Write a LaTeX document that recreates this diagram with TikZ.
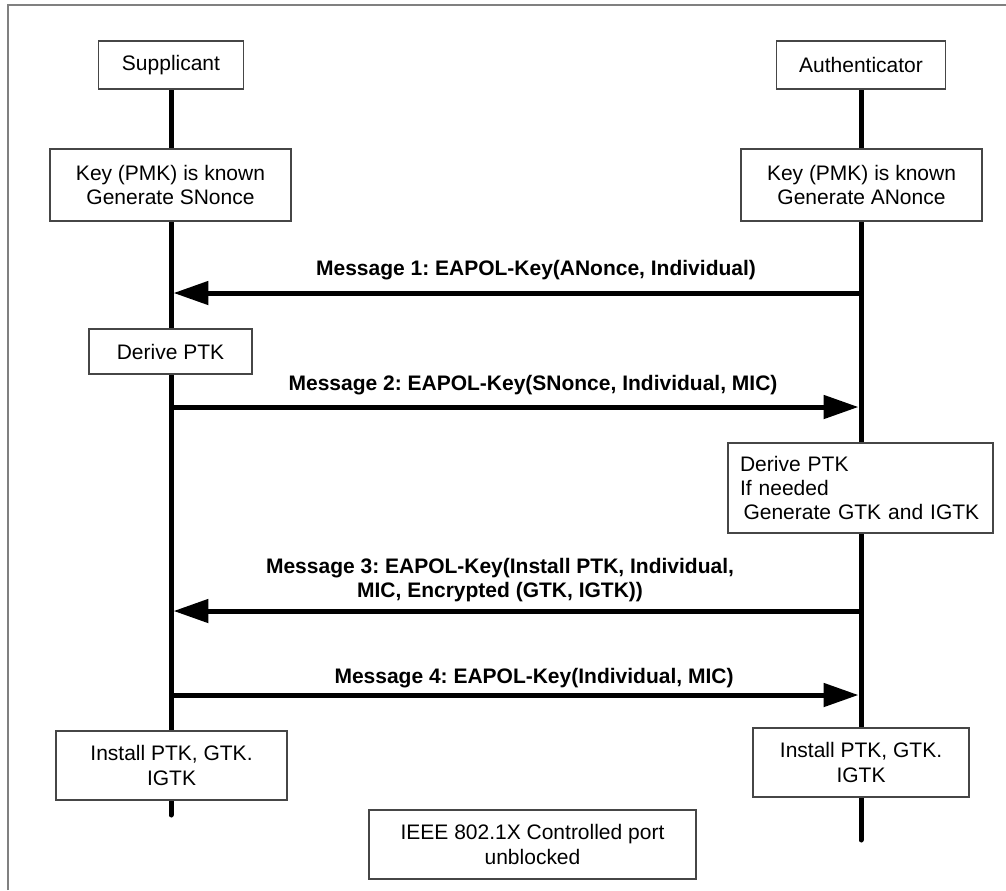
\documentclass[tikz,border=0pt]{standalone}
\usepackage{fontspec}
\setmainfont{Liberation Sans}
\frenchspacing
\usepackage{tikz}
\usetikzlibrary{arrows.meta}
\pgfdeclarelayer{edgelayer}
\pgfdeclarelayer{nodelayer}
\pgfsetlayers{edgelayer,nodelayer,main}
\definecolor{framegray}{RGB}{128,128,128}
\definecolor{boxgray}{RGB}{70,70,70}
\tikzstyle{box}=[rectangle, fill=white, draw=boxgray, line width=0.8pt, inner sep=0pt, align=center, font=\fontsize{11.95}{13.9}\selectfont]
\tikzstyle{msg}=[inner sep=0pt, align=center, font=\fontsize{11.95}{13.7}\selectfont\bfseries]
\tikzstyle{lifeline}=[draw=black, line width=0.1cm, line cap=round]
\tikzstyle{message}=[draw=black, line width=0.1cm, -{Triangle[length=0.7cm,width=0.46cm]}]

\begin{document}
\begin{tikzpicture}[x=0.02cm, y=-0.02cm]
	\useasboundingbox (0,0) rectangle (1006,890);
	\draw[framegray, line width=0.04cm] (8,890) -- (8,5) -- (1006,5);
	\begin{pgfonlayer}{nodelayer}

	%Supplicant
		\node [style=box, minimum width=2.9cm, minimum height=0.96cm] (sup) at (171,65) {Supplicant};
		\node [style=box, minimum width=4.82cm, minimum height=1.44cm] (keyS) at (170.5,185) {Key (PMK) is known\\Generate SNonce};
		\node [style=box, minimum width=3.26cm, minimum height=0.9cm] (derS) at (170.5,351.5) {Derive PTK};
		\node [style=box, minimum width=4.62cm, minimum height=1.38cm] (instS) at (171.5,765.5) {Install PTK, GTK.\\IGTK};

	%Authenticator
		\node [style=box, minimum width=3.38cm, minimum height=0.96cm] (auth) at (861,65) {Authenticator};
		\node [style=box, minimum width=4.82cm, minimum height=1.44cm] (keyA) at (861.5,185) {Key (PMK) is known\\Generate ANonce};
		\node [style=box, align=left, text width=4.82cm, inner xsep=0.24cm, minimum height=1.8cm] (derA) at (860.5,488) {Derive PTK\\If needed\\\hspace{2pt}Generate GTK and IGTK};
		\node [style=box, minimum width=4.32cm, minimum height=1.38cm] (instA) at (861,762.5) {Install PTK, GTK.\\IGTK};

		\node [style=box, minimum width=6.54cm, minimum height=1.38cm] (port) at (532.5,844.5) {IEEE 802.1X Controlled port\\unblocked};

	\end{pgfonlayer}
	\begin{pgfonlayer}{edgelayer}

		%lifelines
		\coordinate (sEnd) at (171,815);
		\coordinate (aEnd) at (861,840);
		\draw [style=lifeline] (sup.south) to (sEnd);
		\draw [style=lifeline] (auth.south) to (aEnd);

	\end{pgfonlayer}

	%messages
	\coordinate (s1) at (173.5,293);
	\coordinate (a1) at (858.5,293);
	\coordinate (s2) at (173.5,407);
	\coordinate (a2) at (858.5,407);
	\coordinate (s3) at (173.5,611);
	\coordinate (a3) at (858.5,611);
	\coordinate (s4) at (173.5,695);
	\coordinate (a4) at (858.5,695);
	\draw [style=message] (a1) to (s1);
	\draw [style=message] (s2) to (a2);
	\draw [style=message] (a3) to (s3);
	\draw [style=message] (s4) to (a4);
	\node [style=msg, anchor=base] (m1) at (536,275) {Message 1: EAPOL-Key(ANonce, Individual)};
	\node [style=msg, anchor=base] (m2) at (533,390) {Message 2: EAPOL-Key(SNonce, Individual, MIC)};
	\node [style=msg] (m3) at (500,580.5) {Message 3: EAPOL-Key(Install PTK, Individual,\\MIC, Encrypted (GTK, IGTK))};
	\node [style=msg, anchor=base] (m4) at (534,683) {Message 4: EAPOL-Key(Individual, MIC)};
\end{tikzpicture}
\end{document}
